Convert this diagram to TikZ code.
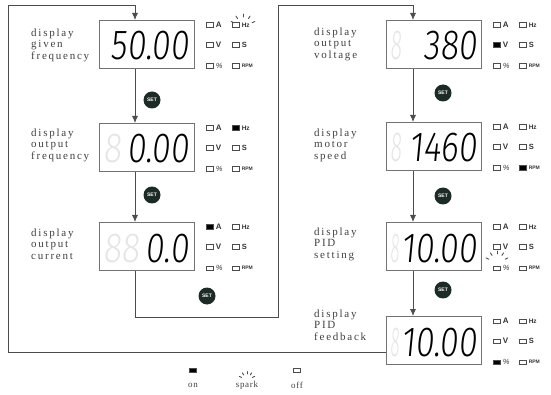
\documentclass[tikz,border=0pt]{standalone}
\usepackage{fontspec}
\setmainfont{Liberation Serif}
\newfontfamily\segfont[FakeSlant=0.12]{Fira Sans Light}
\newfontfamily\lampfont{Liberation Sans}
\usepackage{tikz}
\usetikzlibrary{arrows.meta,positioning}
\definecolor{setgreen}{HTML}{1C2B26}

\begin{document}
\begin{tikzpicture}[x=1pt, y=-1pt,
    % Display panels
    panel/.style={rectangle, draw=black!55, line width=0.8pt, minimum width=95pt, minimum height=48pt, anchor=north west, inner sep=0pt},
    digits/.style={font=\segfont\fontsize{42}{42}\selectfont, inner sep=0pt, anchor=base east},
    ghost/.style={font=\segfont\fontsize{42}{42}\selectfont, text=black!10, inner sep=0pt, anchor=base west},
    caption/.style={font=\addfontfeature{LetterSpace=16}\fontsize{11}{11.5}\selectfont, text=black!75, align=left, anchor=west, inner sep=0pt},
    legend/.style={font=\addfontfeature{LetterSpace=8}\fontsize{9}{9}\selectfont, text=black!75, inner sep=0pt},
    % Lamps
    lamp/.style={rectangle, draw=black!70, line width=0.5pt, minimum width=7pt, minimum height=4.5pt, inner sep=0pt},
    lampon/.style={lamp, fill=black},
    unit/.style={font=\lampfont\bfseries\fontsize{7}{7}\selectfont, text=black!80, anchor=west, inner sep=0pt},
    spark/.style={black!70, line width=0.9pt, line cap=round},
    % Keys and flow lines
    setkey/.style={circle, fill=setgreen, minimum size=17pt, inner sep=0pt, text=white, font=\lampfont\bfseries\fontsize{5}{5}\selectfont},
    flow/.style={draw=black!70, line width=0.8pt},
    tip/.style={flow, -{Latex[length=7pt,width=6pt]}}
]
\useasboundingbox (0,0) rectangle (551,395);

% Panels - left column
\node[panel] (p1) at (99,20) {};
\node[panel] (p2) at (99,123) {};
\node[panel] (p3) at (99,222) {};

% Panels - right column
\node[panel] (p4) at (386,20) {};
\node[panel] (p5) at (386,122) {};
\node[panel] (p6) at (386,222) {};
\node[panel] (p7) at (386,316) {};

% Readings
\node[digits] (d1) at (189,60) {\scalebox{0.8}[1]{50.00}};
\node[ghost] (g2) at (103,163) {\scalebox{0.8}[1]{8}};
\node[digits] (d2) at (189,163) {\scalebox{0.8}[1]{0.00}};
\node[ghost] (g3) at (103,262) {\scalebox{0.8}[1]{88}};
\node[digits] (d3) at (189,262) {\scalebox{0.8}[1]{0.0}};
\node[ghost] (g4) at (390,60) {\scalebox{0.5}[1]{8}};
\node[digits] (d4) at (477,60) {\scalebox{0.8}[1]{380}};
\node[ghost] (g5) at (390,162) {\scalebox{0.5}[1]{8}};
\node[digits] (d5) at (477,162) {\scalebox{0.8}[1]{1460}};
\node[ghost] (g6) at (390,262) {\scalebox{0.4}[1]{8}};
\node[digits] (d6) at (477,262) {\scalebox{0.8}[1]{10.00}};
\node[ghost] (g7) at (390,356) {\scalebox{0.4}[1]{8}};
\node[digits] (d7) at (477,356) {\scalebox{0.8}[1]{10.00}};

% Captions
\node[caption] (c1) at (31,45) {display\\given\\frequency};
\node[caption] (c2) at (31,145) {display\\output\\frequency};
\node[caption] (c3) at (31,244) {display\\output\\current};
\node[caption] (c4) at (314,44) {display\\output\\voltage};
\node[caption] (c5) at (314,145) {display\\motor\\speed};
\node[caption] (c6) at (314,244) {display\\PID\\setting};
\node[caption] (c7) at (314,325) {display\\PID\\feedback};

% Indicator lamps
\foreach \p in {p1,p2,p3,p4,p5,p6,p7} {
    \node[lamp] (\p-a)   at ([xshift=15pt,yshift=-5pt]\p.north east) {};
    \node[lamp] (\p-v)   at ([xshift=15pt,yshift=-25pt]\p.north east) {};
    \node[lamp] (\p-pc)  at ([xshift=15pt,yshift=-46pt]\p.north east) {};
    \node[lamp] (\p-hz)  at ([xshift=41pt,yshift=-5pt]\p.north east) {};
    \node[lamp] (\p-s)   at ([xshift=41pt,yshift=-25pt]\p.north east) {};
    \node[lamp] (\p-rpm) at ([xshift=41pt,yshift=-46pt]\p.north east) {};
    \node[unit, right=2pt of \p-a, font=\lampfont\bfseries\fontsize{8}{8}\selectfont] (\p-la) {A};
    \node[unit, right=2pt of \p-v, font=\lampfont\bfseries\fontsize{8}{8}\selectfont] (\p-lv) {V};
    \node[unit, right=2pt of \p-pc, font=\lampfont\itshape\fontsize{7.5}{7.5}\selectfont] (\p-lpc) {\%};
    \node[unit, right=2pt of \p-hz, font=\lampfont\bfseries\fontsize{6.5}{6.5}\selectfont] (\p-lhz) {Hz};
    \node[unit, right=2pt of \p-s, font=\lampfont\bfseries\fontsize{7.5}{7.5}\selectfont] (\p-ls) {S};
    \node[unit, right=2pt of \p-rpm, font=\lampfont\bfseries\fontsize{5}{5}\selectfont] (\p-lrpm) {RPM};
}

% Lit lamps
\node[lampon] (on2) at (p2-hz) {};
\node[lampon] (on3) at (p3-a) {};
\node[lampon] (on4) at (p4-v) {};
\node[lampon] (on5) at (p5-rpm) {};
\node[lampon] (on7) at (p7-pc) {};

% Sparks
\coordinate (sp1) at (243,27);
\coordinate (sp6) at (497,263);
\foreach \a in {-25,-57,-90,-123,-155} {
    \draw[spark] (sp1) ++(\a:10) -- ++(\a:3);
    \draw[spark] (sp6) ++(\a:9) -- ++(\a:3);
}

% SET keys
\node[setkey] (s1) at (152,100) {SET};
\node[setkey] (s2) at (152,195) {SET};
\node[setkey] (s3) at (207,296) {SET};
\node[setkey] (s4) at (443,93) {SET};
\node[setkey] (s5) at (443,196) {SET};
\node[setkey] (s6) at (443,290) {SET};

% Flow lines
\coordinate (colL) at (135,0);
\coordinate (colR) at (413,0);
\coordinate (outer) at (8,5);
\coordinate (midB) at (278,317);
\coordinate (midT) at (278,5);
\draw[tip] (p1.south -| colL) -- (p2.north -| colL);
\draw[tip] (p2.south -| colL) -- (p3.north -| colL);
\draw[tip] (p3.south -| colL) |- (midB) -- (midT) -| (p4.north -| colR);
\draw[tip] (p4.south -| colR) -- (p5.north -| colR);
\draw[tip] (p5.south -| colR) -- (p6.north -| colR);
\draw[tip] (p6.south -| colR) -- (p7.north -| colR);
\draw[tip] ([yshift=-12pt]p7.west) -| (outer) -| (p1.north -| colL);

% Legend
\node[lampon] (keyon) at (193,370) {};
\node[legend] (txton) at (193,385) {on};
\coordinate (keyspark) at (247,380);
\foreach \a in {-25,-57,-90,-123,-155}
    \draw[spark] (keyspark) ++(\a:6) -- ++(\a:2.5);
\node[legend] (txtspark) at (247,385) {spark};
\node[lamp] (keyoff) at (297,370) {};
\node[legend] (txtoff) at (297,385) {off};
\end{tikzpicture}
\end{document}
